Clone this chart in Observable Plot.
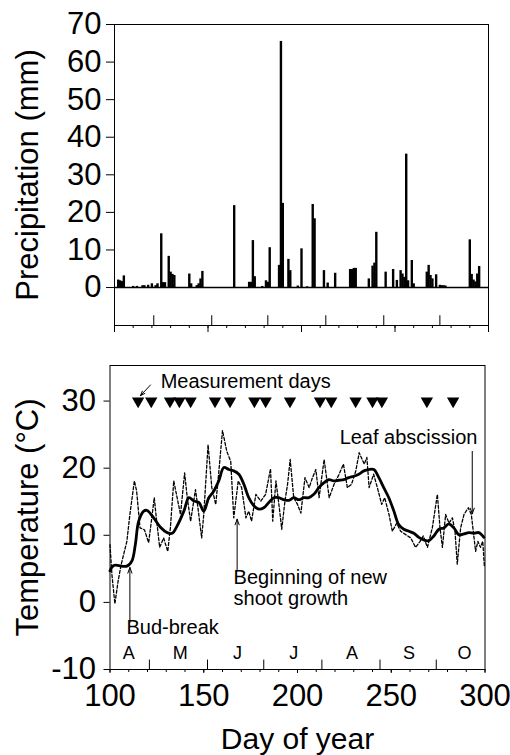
<!DOCTYPE html>
<html>
<head>
<meta charset="utf-8">
<script src="https://cdn.jsdelivr.net/npm/d3@7"></script>
<script src="https://cdn.jsdelivr.net/npm/@observablehq/plot@0.6"></script>
<style>
  html, body { margin: 0; padding: 0; background: white; }
  #chart { width: 510px; height: 755px; position: relative; }
  #chart svg { display: block; }
</style>
</head>
<body>
<div id="chart"></div>
<script>
// ---------- DATA ----------
// Daily precipitation (mm) by day of year
const precipDays = [102,103,104,105,110,112,115,116,118,120,122,123,125,126,127,129,130,131,132,140,141,144,145,146,147,164,172,173,174,175,179,181,182,183,188,189,190,193,194,198,200,203,206,207,212,214,218,226,227,228,229,236,238,239,240,245,249,251,253,254,255,256,257,259,260,267,268,269,270,272,274,275,276,277,290,291,292,293,294,295];
const precipMm   = [2.0,1.8,1.6,3.1,0.3,0.3,0.5,0.5,0.6,1.0,0.5,1.0,14.3,1.3,1.3,8.3,4.1,3.5,3.2,3.6,1.0,0.5,1.0,2.3,4.3,21.8,1.4,1.4,12.5,2.9,0.3,1.8,1.4,10.6,5.9,65.5,22.4,7.5,4.5,0.4,10.3,0.2,22.1,18.3,4.5,1.2,3.8,4.8,4.8,5.1,5.1,2.3,5.7,6.5,14.7,4.1,4.8,1.9,4.5,3.6,2.7,35.5,1.8,7.2,1.0,4.1,5.9,3.2,2.3,3.4,0.6,0.5,0.5,0.4,12.7,3.5,2.0,1.5,3.6,5.6];

// Daily mean temperature (dashed)
const dailyDays = [100,101,102.6,104.4,106,109,110.6,113,114.2,116,118.4,120.6,122.3,123.6,124.7,126.5,128.6,130.8,132.2,134,135.8,137.6,139.8,141.2,143,145.6,146.9,148.9,150,152.3,154.3,156.4,157.6,160,162.3,164.4,166,168.4,170.2,172.5,174,175.5,177.8,180.4,183,185.6,186.8,188.5,190.3,191.6,193.3,194.7,196.1,198,200,201.8,204,206.2,208,209.8,211.5,214.2,216.9,219.5,222.2,224.5,226.6,228.8,231.1,232.9,235.6,237,238.2,240.6,242.6,244.9,246.5,248.8,250.6,252.9,255,257.7,260.4,263,265.4,267.1,269.3,271.9,274.6,276,277.3,279,280.8,282.6,284,285.2,287,288.8,291.1,292.7,295,296.2,297.6,298.8,299.7];
const dailyTemp = [8.6,4.2,-0.2,3.3,5.7,9.1,13.1,18.1,16.6,11.1,10.8,8.9,12.6,15.6,12.6,8.2,9.6,7.6,11.1,18.1,15.6,13.1,19.3,15.6,12.1,16.8,14.1,9.6,13.1,23.5,17.1,14.6,18.1,25.6,22.5,21.0,12.6,18.1,17.1,12.6,13.6,12.1,16.1,15.1,16.1,19.9,12.1,18.1,14.1,10.9,15.1,17.6,21.3,15.6,14.6,13.3,18.6,17.1,18.6,19.8,15.6,21.3,15.6,17.6,19.1,20.6,17.1,17.6,19.6,22.3,20.6,21.6,17.1,19.1,17.1,14.6,15.6,13.1,10.6,11.8,10.6,10.1,9.6,8.2,9.1,9.9,8.2,11.1,16.1,11.1,8.2,13.1,11.8,12.6,10.6,5.7,11.1,13.1,14.1,13.1,7.6,9.1,8.2,9.1,5.2];

// Running mean temperature (solid)
const smoothDays = [100,102,109,111.7,113.5,115.3,118,119.8,123.3,126.9,130.5,133.2,135.8,139.4,142.1,144.7,147.4,150,152.7,155.4,158,160.7,163.4,166,168.7,171.4,174,176.7,179.4,182,184.7,187.4,190,192.7,195.4,198,200.7,203.4,206,208.7,211.4,214,216.7,219.4,222,224.7,227.4,230,232.7,235.4,238,240.7,243.4,246,248.7,251.4,254,256.7,259.4,262,264.7,267.4,270,272.7,275.4,278,280.7,283.4,286,288.7,291.4,294,296.7,299.4];
const smoothTemp = [4.7,5.5,5.4,6.2,8.6,12.1,13.6,13.7,12.6,11.2,10.4,10.3,11.4,13.6,15.6,15.1,14.9,13.6,15.6,16.6,18.1,20.1,19.8,19.6,19.1,17.6,15.6,14.4,13.9,14.1,14.9,15.6,15.6,15.3,15.2,15.6,15.3,15.6,15.6,16.1,17.1,17.8,18.3,18.1,18.2,18.3,18.6,18.8,19.1,19.6,19.8,19.8,18.6,17.1,15.6,13.6,11.6,10.9,10.6,10.3,9.7,9.3,9.2,9.9,10.9,11.1,11.7,11.1,10.1,10.2,10.4,10.3,10.4,9.7];

// Measurement days (triangles at 30 °C)
const measurementDays = [115,122,132,137,143,156,164,177,183,196,212,218,231,240,245,269,283];
const measurementLevel = 30;

// Month boundaries and month letters
const monthStarts = [121,152,182,213,244,274];
const monthLetters = ["A","M","J","J","A","S","O"];
const monthLetterDays = [110,137.5,168,198,229,259.5,289];
const monthLetterLevel = -7.6;

// Annotations (day, temperature)
const annotationTexts = [
  {label: "Measurement days", day: 127, temp: 32.9, anchor: "start"},
  {label: "Leaf abscission", day: 296, temp: 24.6, anchor: "end"},
  {label: "Beginning of new\nshoot growth", day: 165.9, temp: 2.15, anchor: "start"},
  {label: "Bud-break", day: 108.8, temp: -3.7, anchor: "start"}
];
const annotationArrows = [
  {day1: 121.6, temp1: 32.4, day2: 116.2, temp2: 30.8},
  {day1: 293.2, temp1: 22.5, day2: 293.2, temp2: 13.2},
  {day1: 167.8, temp1: 4.7, day2: 167.8, temp2: 12.4},
  {day1: 110.6, temp1: -3.0, day2: 110.6, temp2: 5.2}
];

// ---------- TABLES ----------
const precip = precipDays.map((d, i) => ({day: d, mm: precipMm[i]}));
const daily = dailyDays.map((d, i) => ({day: d, t: dailyTemp[i]}));
const smooth = smoothDays.map((d, i) => ({day: d, t: smoothTemp[i]}));
const months = monthLetters.map((m, i) => ({m, day: monthLetterDays[i]}));
const startTexts = annotationTexts.filter(d => d.anchor === "start");
const endTexts = annotationTexts.filter(d => d.anchor === "end");

const FONT = "'Liberation Sans', Arial, Helvetica, sans-serif";

// downward triangle symbol
const triangleDown = {
  draw(ctx, size) {
    const a = Math.sqrt(4 * size / Math.sqrt(3));
    const h = a * Math.sqrt(3) / 2;
    ctx.moveTo(-a / 2, -h / 3);
    ctx.lineTo(a / 2, -h / 3);
    ctx.lineTo(0, 2 * h / 3);
    ctx.closePath();
  }
};

// ---------- TOP PANEL: precipitation ----------
const topPlot = Plot.plot({
  width: 510,
  height: 340,
  marginLeft: 114,
  marginRight: 22,
  marginTop: 24,
  marginBottom: 15,
  style: {fontFamily: FONT, color: "black", background: "white", overflow: "visible"},
  x: {domain: [100, 300]},
  y: {domain: [-10.1, 70]},
  marks: [
    Plot.frame({stroke: "black", strokeWidth: 1}),
    Plot.ruleY([0], {stroke: "black", strokeWidth: 1.5}),
    Plot.ruleX(precip, {x: "day", y1: 0, y2: "mm", stroke: "black", strokeWidth: 2.4}),
    Plot.axisY({ticks: d3.range(0, 71, 10), tickSize: 8, tickPadding: 5, fontSize: 31, tickFormat: d => String(d), label: null}),
    Plot.axisX({ticks: d3.range(100, 301, 10), tickSize: 3, tickFormat: () => "", label: null}),
    Plot.axisX({ticks: d3.range(100, 301, 50), tickSize: 7, tickFormat: () => "", label: null}),
    Plot.ruleX(monthStarts, {y1: -10.1, y2: -7.5, stroke: "black", strokeWidth: 1}),
    Plot.text(["Precipitation (mm)"], {frameAnchor: "left", textAnchor: "middle", rotate: -90, dx: -86, fontSize: 31, lineAnchor: "middle", fill: "black"})
  ]
});

// ---------- BOTTOM PANEL: temperature ----------
const bottomPlot = Plot.plot({
  width: 510,
  height: 415,
  marginLeft: 109.5,
  marginRight: 25.5,
  marginTop: 25,
  marginBottom: 86,
  style: {fontFamily: FONT, color: "black", background: "white", overflow: "visible"},
  x: {domain: [100, 300]},
  y: {domain: [-10, 35.3]},
  marks: [
    Plot.frame({stroke: "black", strokeWidth: 1}),
    Plot.line(daily, {x: "day", y: "t", stroke: "black", strokeWidth: 1.3, strokeDasharray: "3,2"}),
    Plot.line(smooth, {x: "day", y: "t", stroke: "black", strokeWidth: 2.8, curve: "catmull-rom"}),
    Plot.dot(measurementDays, {x: d => d, y: () => measurementLevel, symbol: triangleDown, r: 4.6, fill: "black", stroke: "none"}),
    Plot.axisY({ticks: [-10, 0, 10, 20, 30], tickSize: 6, tickPadding: 8, fontSize: 31, tickFormat: d => String(d), label: null}),
    Plot.axisX({ticks: d3.range(100, 301, 10), tickSize: 3, tickFormat: () => "", label: null}),
    Plot.axisX({ticks: d3.range(100, 301, 50), tickSize: 4, tickPadding: 10, fontSize: 31, tickFormat: d => String(d), label: null}),
    Plot.ruleX(monthStarts, {y1: -10, y2: -8.6, stroke: "black", strokeWidth: 1}),
    Plot.text(months, {x: "day", y: () => monthLetterLevel, text: "m", fontSize: 18, fill: "black"}),
    Plot.arrow(annotationArrows, {x1: "day1", y1: "temp1", x2: "day2", y2: "temp2", stroke: "black", strokeWidth: 1, headLength: 9, headAngle: 40}),
    Plot.text(startTexts, {x: "day", y: "temp", text: "label", textAnchor: "start", fontSize: 20, lineHeight: 1.05, fill: "black"}),
    Plot.text(endTexts, {x: "day", y: "temp", text: "label", textAnchor: "end", fontSize: 20, lineHeight: 1.05, fill: "black"}),
    Plot.text(["Temperature (°C)"], {frameAnchor: "left", textAnchor: "middle", rotate: -90, dx: -81.5, fontSize: 31, lineAnchor: "middle", fill: "black"}),
    Plot.text(["Day of year"], {frameAnchor: "bottom", textAnchor: "middle", dy: 70, fontSize: 30, lineAnchor: "middle", fill: "black"})
  ]
});

const chart = document.getElementById("chart");
chart.appendChild(topPlot);
chart.appendChild(bottomPlot);
</script>
</body>
</html>
